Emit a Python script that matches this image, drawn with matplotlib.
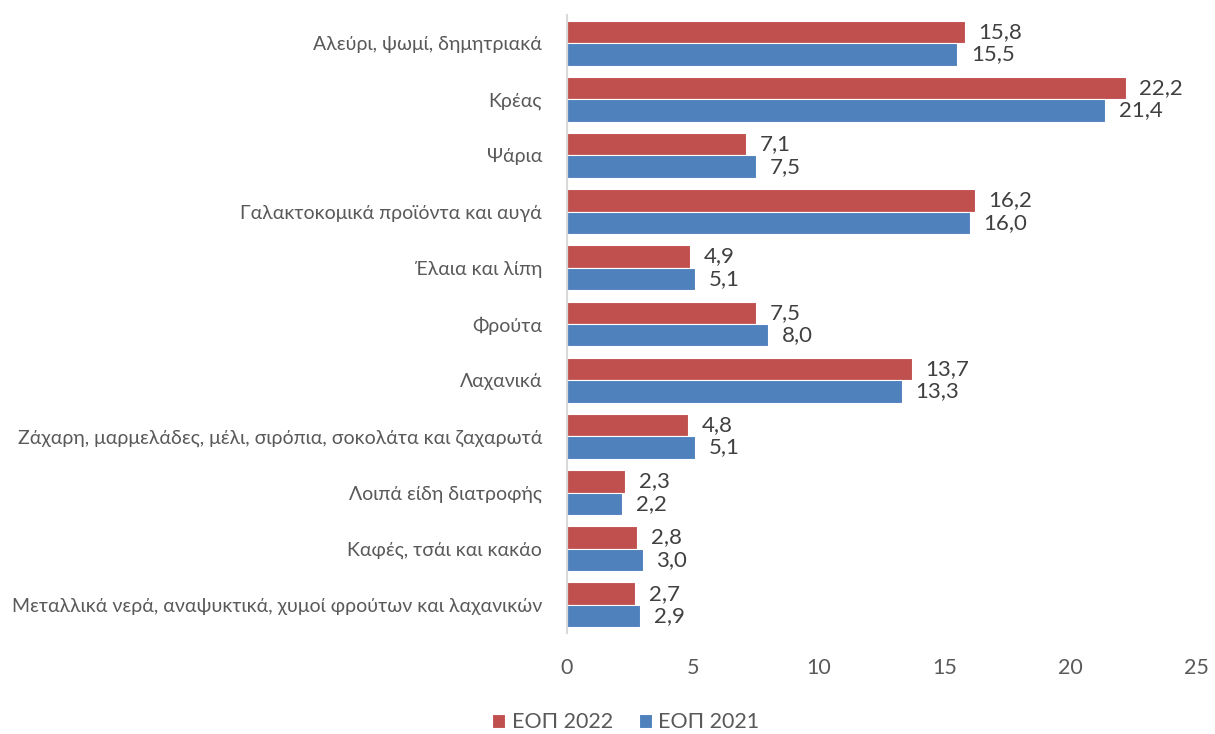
import numpy as np
import matplotlib.pyplot as plt

categories = [
    "Αλεύρι, ψωμί, δημητριακά",
    "Κρέας",
    "Ψάρια",
    "Γαλακτοκομικά προϊόντα και αυγά",
    "Έλαια και λίπη",
    "Φρούτα",
    "Λαχανικά",
    "Ζάχαρη, μαρμελάδες, μέλι, σιρόπια, σοκολάτα και ζαχαρωτά",
    "Λοιπά είδη διατροφής",
    "Καφές, τσάι και κακάο",
    "Μεταλλικά νερά, αναψυκτικά, χυμοί φρούτων και λαχανικών",
]
eop_2022 = [15.8, 22.2, 7.1, 16.2, 4.9, 7.5, 13.7, 4.8, 2.3, 2.8, 2.7]
eop_2021 = [15.5, 21.4, 7.5, 16.0, 5.1, 8.0, 13.3, 5.1, 2.2, 3.0, 2.9]

plt.rcParams["font.family"] = ["Lato", "DejaVu Sans"]

fig = plt.figure(figsize=(12.15, 7.34), dpi=100)
ax = fig.add_axes([0.4667, 0.1376, 0.5177, 0.842])

y = np.arange(len(categories))
h = 0.4
red = "#C0504D"
blue = "#4F81BD"
txt = "#404040"

b1 = ax.barh(y - h / 2, eop_2022, height=h, color=red, edgecolor="white", linewidth=0.8, label="ΕΟΠ 2022")
b2 = ax.barh(y + h / 2, eop_2021, height=h, color=blue, edgecolor="white", linewidth=0.8, label="ΕΟΠ 2021")

# ετικέτες τιμών με κόμμα
for bars, vals in [(b1, eop_2022), (b2, eop_2021)]:
    ax.bar_label(bars, labels=[f"{v:.1f}".replace(".", ",") for v in vals],
                 padding=10, fontsize=16, color=txt)

ax.set_ylim(len(categories) - 0.5, -0.5)
ax.set_xlim(0, 25)
ax.set_xticks([0, 5, 10, 15, 20, 25])
ax.set_yticks(y)
ax.set_yticklabels(categories, fontsize=14, color="#595959")
ax.tick_params(axis="x", labelsize=15.5, labelcolor="#595959", length=0, pad=18)
ax.tick_params(axis="y", length=0, pad=18)

for s in ["top", "right", "bottom"]:
    ax.spines[s].set_visible(False)
ax.spines["left"].set_color("#D9D9D9")
ax.spines["left"].set_linewidth(1.5)

fig.legend(handles=[b1, b2], loc="center", bbox_to_anchor=(0.515, 0.016),
           ncol=2, frameon=False, fontsize=15.5, labelcolor="#595959",
           handlelength=0.6, handleheight=0.6, handletextpad=0.3, columnspacing=1.2)

fig.savefig("out.png", dpi=100)
